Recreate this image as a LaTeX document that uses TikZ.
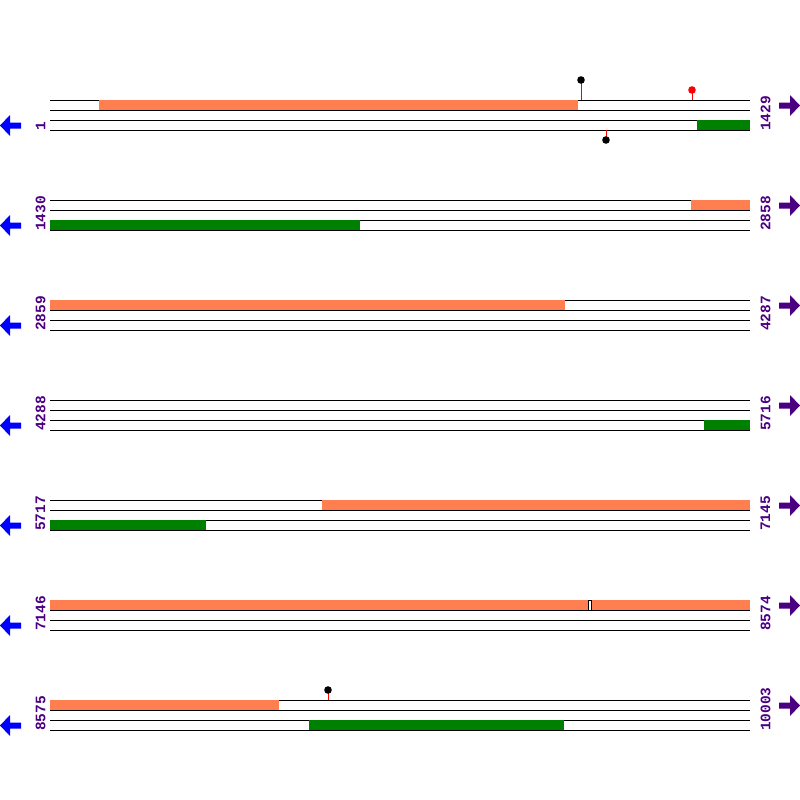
\documentclass[tikz,border=0pt]{standalone}
\usepackage{fontspec}
\setmonofont{Liberation Mono}
\usetikzlibrary{positioning}
\definecolor{cdsorange}{HTML}{FF7F50}
\definecolor{cdsgreen}{HTML}{008000}
\definecolor{posviolet}{HTML}{4B0082}
\tikzset{strand/.style = {black, line width = 1}}
\tikzset{fwd/.style = {fill = cdsorange}}
\tikzset{rev/.style = {fill = cdsgreen}}
\tikzset{poslabel/.style = {posviolet, rotate = 90, anchor = west, inner sep = 0,
                            font = \ttfamily\bfseries\fontsize{14.5}{14.5}\selectfont}}
\tikzset{stalk/.style = {red, line width = 1}}

\begin{document}
\begin{tikzpicture}[x=1pt, y=-1pt]
      \useasboundingbox (0, 0) rectangle (800, 800);
      \foreach \row/\first/\last in {1/1/1429, 2/1430/2858, 3/2859/4287, 4/4288/5716,
                                     5/5717/7145, 6/7146/8574, 7/8575/10003} {
        \pgfmathsetmacro{\base}{100*\row}
        \foreach \dy in {0, 10, 20, 30}
          \draw [strand] (50, \base+\dy) -- (750, \base+\dy);
        \node [poslabel] (start\row) at (40.5, \base+31) {\first};
        \node [poslabel] (end\row) at (765.5, \base+31) {\last};
        \coordinate (back\row) at (0, \base+25.5);
        \coordinate (ahead\row) at (800, \base+5.5);
        \fill [blue] (back\row) -- ++(10, -10.5) -- ++(0, 7.5) -- ++(11, 0)
                     -- ++(0, 6) -- ++(-11, 0) -- ++(0, 7.5) -- cycle;
        \fill [posviolet] (ahead\row) -- ++(-10, -10.5) -- ++(0, 7.5) -- ++(-11, 0)
                     -- ++(0, 6) -- ++(11, 0) -- ++(0, 7.5) -- cycle;
      }

      % forward strand features
      \foreach \y/\a/\b in {100/99/578, 200/691/750, 300/50/565, 500/322/750,
                            600/50/588, 600/592/750, 700/50/279}
        \fill [fwd] (\a, \y) rectangle (\b, \y+10);
      \draw [fill = white, line width = 0.8] (588, 600) rectangle (591, 610);

      % reverse strand features
      \foreach \y/\a/\b in {100/697/750, 200/50/360, 400/704/750, 500/50/206,
                            700/309/564}
        \fill [rev] (\a, \y+20) rectangle (\b, \y+30);

      % sites
      \draw [stalk] (581, 100) -- (581, 80);
      \fill (581, 80) circle (3.8);
      \draw [stalk] (692, 100) -- (692, 90);
      \fill [red] (692, 90) circle (3.8);
      \draw [stalk] (606, 130) -- (606, 140);
      \fill (606, 140) circle (3.8);
      \draw [stalk] (328, 700) -- (328, 690);
      \fill (328, 690) circle (3.8);
    \end{tikzpicture}
\end{document}
